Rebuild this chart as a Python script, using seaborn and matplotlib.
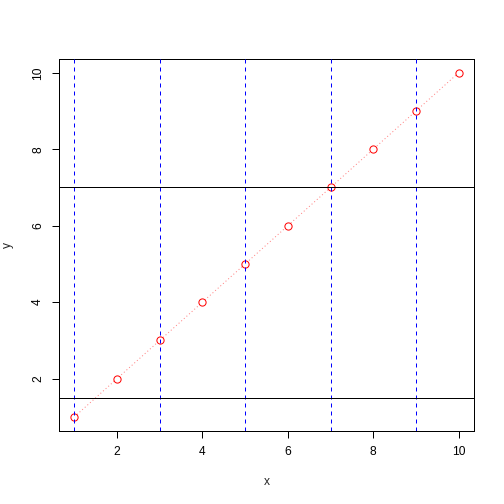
import matplotlib
matplotlib.use("Agg")
import matplotlib.pyplot as plt
import seaborn as sns
import pandas as pd

x = [1, 2, 3, 4, 5, 6, 7, 8, 9, 10]
y = [1, 2, 3, 4, 5, 6, 7, 8, 9, 10]
vlines = [1, 3, 5, 7, 9]
hlines = [1.5, 7]
xticks = [2, 4, 6, 8, 10]
yticks = [2, 4, 6, 8, 10]

sns.set_style("ticks")
plt.rcParams['font.family'] = ['Liberation Sans', 'DejaVu Sans']

df = pd.DataFrame({"x": x, "y": y})

fig = plt.figure(figsize=(7, 7), dpi=72)
ax = fig.add_axes([59 / 504, (504 - 430.6) / 504, (474 - 59) / 504, (430.6 - 59) / 504])

# type="b" look: dotted line under hollow points
sns.lineplot(data=df, x="x", y="y", ax=ax, color="red", alpha=0.5,
             linestyle=(0, (1, 2.5)), linewidth=1, zorder=1)
sns.scatterplot(data=df, x="x", y="y", ax=ax, marker="o", s=52,
                facecolor="white", edgecolor="red", linewidth=1, zorder=2)

ax.vlines(vlines, 0, 1, transform=ax.get_xaxis_transform(), colors="blue",
          linestyles=[(0, (4, 4))], linewidth=1, zorder=3)
for h in hlines:
    ax.axhline(h, color="black", linewidth=1, zorder=3, snap=True)

ax.set_xlim(0.64, 10.36)
ax.set_ylim(0.64, 10.36)
ax.set_xticks(xticks)
ax.set_yticks(yticks)
ax.set_xticklabels([str(t) for t in xticks])
ax.set_yticklabels([str(t) for t in yticks], rotation=90, va="center")
ax.tick_params(direction="out", length=7, width=1, labelsize=12, pad=8, colors="black")
for s in ax.spines.values():
    s.set_visible(True)
    s.set_color("black")
    s.set_linewidth(1)
ax.set_xlabel("x", fontsize=12, labelpad=18)
ax.set_ylabel("y", fontsize=12, labelpad=18)
ax.grid(False)

fig.savefig("out.png", dpi=72, facecolor="white")
